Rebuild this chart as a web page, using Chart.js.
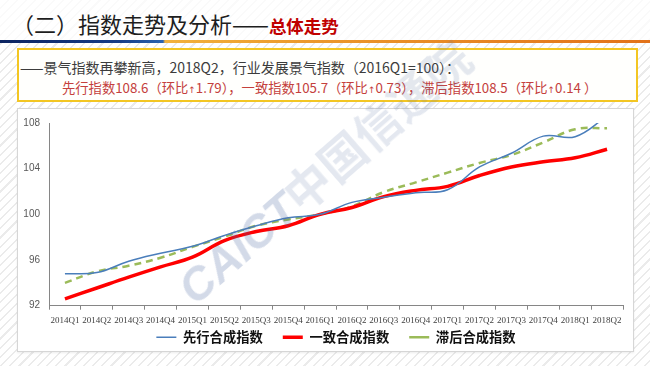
<!DOCTYPE html>
<html>
<head>
<meta charset="utf-8">
<script src="https://cdn.jsdelivr.net/npm/chart.js@4.4.1/dist/chart.umd.min.js"></script>
<style>
  html, body { margin:0; padding:0; }
  body {
    width:650px; height:366px; position:relative; overflow:hidden;
    background: repeating-linear-gradient(135deg, #ffffff 0px, #ffffff 5px, #ebebeb 5px, #ebebeb 6.5px);
    font-family: "Noto Sans CJK SC", "Noto Sans", sans-serif;
  }
  #titlebg { position:absolute; left:0; top:0; width:650px; height:40px; background:rgba(255,255,255,0.75); }
  #title { position:absolute; left:12px; top:6px; height:34px; line-height:34px; white-space:nowrap; color:#1e1e1e; font-size:22px; }
  #title .red { color:#c00000; font-size:17.5px; font-weight:bold; }
  #bar { position:absolute; left:0; top:40px; width:650px; height:3px;
    background: linear-gradient(to right, #0d2461 0px, #173d86 120px, #2c64b0 163px, #f2b23c 165px, #ec9a2c 300px, #e2721a 650px); }
  #box { position:absolute; left:17px; top:48px; width:621px; height:54px; box-sizing:border-box;
    border:2px solid #f3c623; background:#fffffd; }
  #l1 { position:absolute; left:20px; top:58px; font-size:14px; color:#3c3c3c; white-space:nowrap; line-height:18px; }
  #l2 { position:absolute; left:62px; top:79px; font-size:13.3px; color:#c4403c; white-space:nowrap; line-height:18px; }
  .ar { font-family:"DejaVu Sans", sans-serif; font-size:9px; }
  #panel { position:absolute; left:17px; top:108px; width:617px; height:244px; box-sizing:border-box;
    border:1px solid #d6d6d6; background:#ffffff; box-shadow: 0 1px 2px rgba(0,0,0,0.08); }
  #wrap { position:absolute; left:17px; top:108px; width:617px; height:244px; }
  #wm { position:absolute; left:200px; top:262px; font-size:46px; line-height:46px; white-space:nowrap;
    transform-origin: 0% 100%; transform: rotate(-41deg); pointer-events:none; font-weight:bold; }
  #wm .en { color:rgba(70,100,160,0.24); font-family:"Liberation Sans", Arial, sans-serif; font-style:italic; }
  #wm .cn { color:rgba(90,110,160,0.16); font-family:"Noto Sans CJK SC", sans-serif; }
</style>
</head>
<body>
<div id="titlebg"></div>
<div id="title">（二）指数走势及分析——<span class="red">总体走势</span></div>
<div id="bar"></div>
<div id="box"></div>
<div id="l1">——景气指数再攀新高，2018Q2，行业发展景气指数（2016Q1=100）：</div>
<div id="l2">先行指数108.6（环比<span class="ar">↑</span>1.79），一致指数105.7（环比<span class="ar">↑</span>0.73），滞后指数108.5（环比<span class="ar">↑</span>0.14 ）</div>
<div id="panel"></div>
<div id="wrap"><canvas id="c" width="617" height="244"></canvas></div>
<div id="wm"><span class="en">CAICT</span><span class="cn">中国信通院</span></div>
<script>
const categories = ['2014Q1','2014Q2','2014Q3','2014Q4','2015Q1','2015Q2','2015Q3','2015Q4',
  '2016Q1','2016Q2','2016Q3','2016Q4','2017Q1','2017Q2','2017Q3','2017Q4','2018Q1','2018Q2'];
const leadingIndex    = [94.8, 94.9, 95.9, 96.6, 97.2, 98.15, 99.0, 99.7, 100, 101.05, 101.5, 101.9, 102.15, 104.15, 105.35, 106.85, 106.8, 108.6];
const coincidentIndex = [92.6, 93.55, 94.5, 95.4, 96.25, 97.7, 98.5, 99.0, 100, 100.6, 101.55, 102.1, 102.45, 103.4, 104.15, 104.6, 104.95, 105.7];
const laggingIndex    = [94.0, 95.0, 95.5, 96.2, 97.15, 98.05, 99.0, 99.55, 100, 100.7, 101.95, 102.8, 103.65, 104.5, 105.2, 106.3, 107.45, 107.55];
const seriesNames = ['先行合成指数', '一致合成指数', '滞后合成指数'];
const yTicks = [92, 96, 100, 104, 108];

new Chart(document.getElementById('c'), {
  type: 'line',
  data: {
    labels: categories,
    datasets: [
      { label: seriesNames[0], data: leadingIndex, borderColor:'#4a7ebb', backgroundColor:'#4a7ebb',
        borderWidth:1.5, tension:0.4, pointRadius:0, fill:false },
      { label: seriesNames[1], data: coincidentIndex, borderColor:'#ff0000', backgroundColor:'#ff0000',
        borderWidth:3.5, tension:0.4, pointRadius:0, fill:false },
      { label: seriesNames[2], data: laggingIndex, borderColor:'#9bbb59', backgroundColor:'#9bbb59',
        borderWidth:2.5, borderDash:[7,5], tension:0.4, pointRadius:0, fill:false }
    ]
  },
  options: {
    responsive:false, animation:false, devicePixelRatio:1,
    layout: { padding: { left:0, right:11, top:9, bottom:-2 } },
    plugins: {
      tooltip: { enabled:false },
      legend: {
        position:'bottom', fullSize:false,
        labels: {
          usePointStyle:true, pointStyle:'line', pointStyleWidth:20, padding:20,
          color:'#111', font:{ family:'"Noto Sans CJK SC", sans-serif', size:13.3, weight:'bold' }
        }
      }
    },
    scales: {
      x: {
        offset:true,
        grid: { display:true, drawOnChartArea:false, drawTicks:true, tickLength:4, color:'#868686', offset:true },
        border: { display:true, color:'#868686', width:1 },
        ticks: { autoSkip:false, maxRotation:0, minRotation:0, padding:6, color:'#404040',
          font:{ family:'"Liberation Serif", "Times New Roman", serif', size:9 } },
        afterFit: (s) => { s.height = 5; s._computeLabelArea = () => undefined; }
      },
      y: {
        min:92, max:108,
        afterBuildTicks: (s) => { s.ticks = yTicks.map(v => ({ value:v })); },
        grid: { display:false, drawTicks:false },
        border: { display:true, color:'#868686', width:1 },
        ticks: { padding:9, color:'#595959', font:{ family:'"Liberation Sans", Arial, sans-serif', size:10 } },
        afterFit: (s) => { s.width = 32; }
      }
    }
  }
});
</script>
</body>
</html>
